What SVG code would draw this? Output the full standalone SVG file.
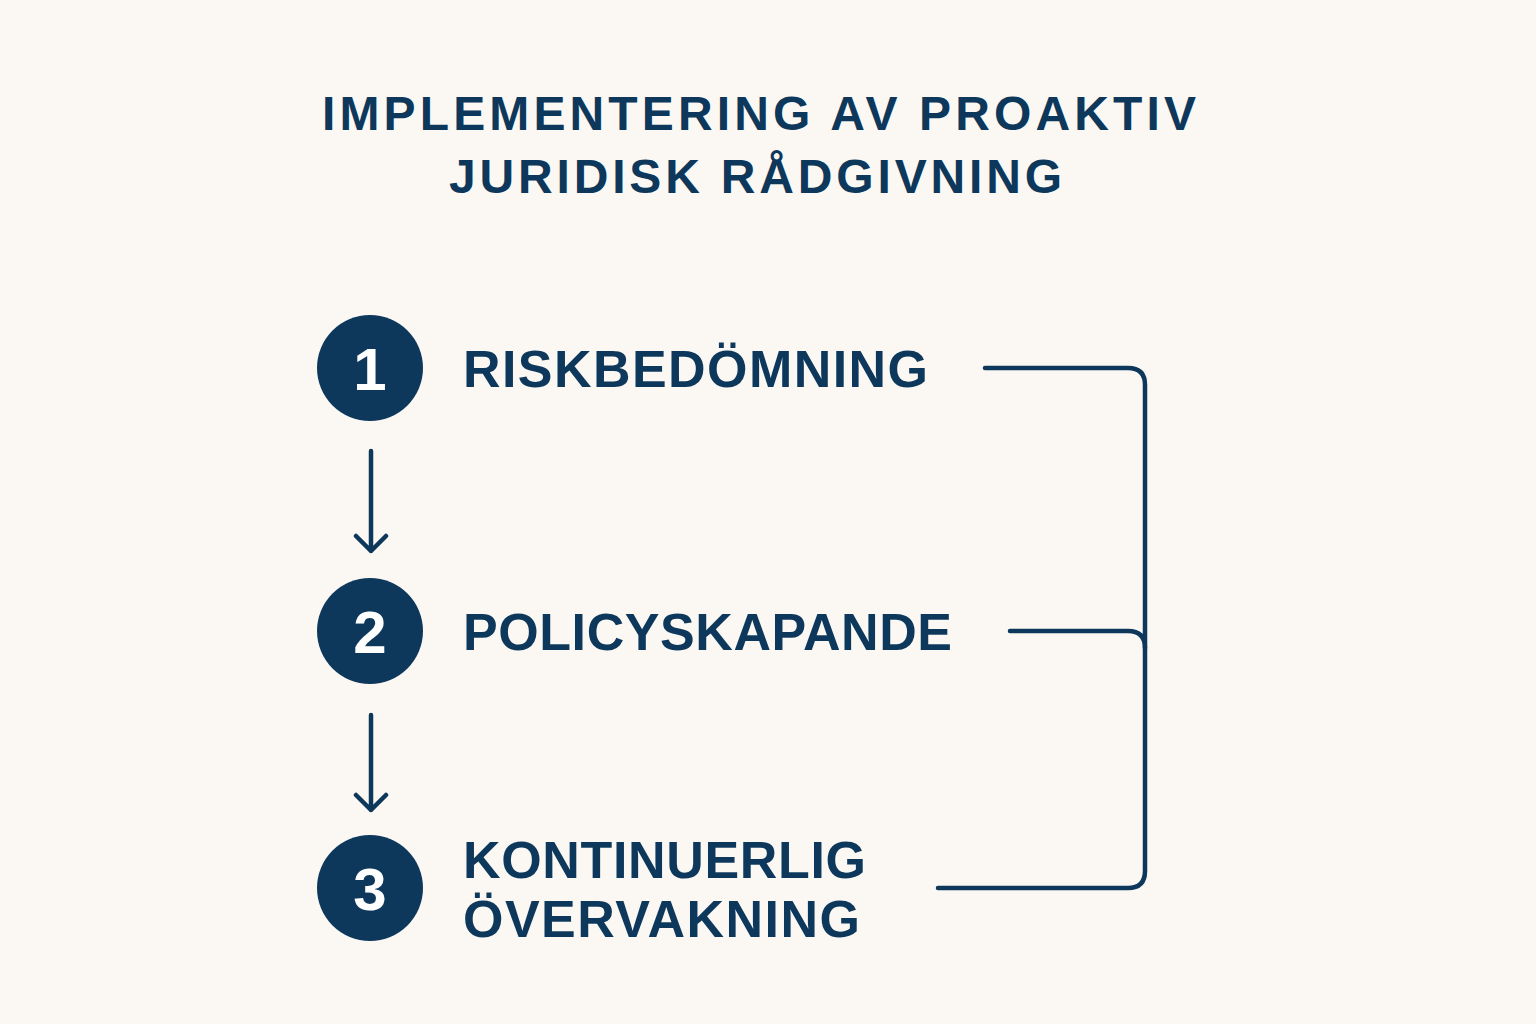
<svg xmlns="http://www.w3.org/2000/svg" width="1536" height="1024" viewBox="0 0 1536 1024">
<style>
.t{font-family:"Liberation Sans",Arial,sans-serif;font-weight:700;fill:#0d385c}
.title{font-size:48px}
.lab{font-size:52px}
.num{font-family:"Liberation Sans",Arial,sans-serif;font-weight:700;font-size:60px;fill:#ffffff}
.c{fill:#0d385c}
.ln{fill:none;stroke:#0d385c;stroke-width:4.5;stroke-linecap:round;stroke-linejoin:round}
</style>
<rect width="1536" height="1024" fill="#fbf8f3"/>
<g id="title">
<text class="t title" x="322" y="130" textLength="874" lengthAdjust="spacing">IMPLEMENTERING AV PROAKTIV</text>
<text class="t title" x="449" y="193" textLength="613" lengthAdjust="spacing">JURIDISK RÅDGIVNING</text>
</g>
<g id="node1">
<circle class="c" cx="370" cy="368" r="53"/>
<text class="num" x="370" y="390" text-anchor="middle">1</text>
<text class="t lab" x="463" y="387" textLength="465" lengthAdjust="spacing">RISKBEDÖMNING</text>
</g>
<g id="node2">
<circle class="c" cx="370" cy="631" r="53"/>
<text class="num" x="370" y="653" text-anchor="middle">2</text>
<text class="t lab" x="463" y="650" textLength="489" lengthAdjust="spacing">POLICYSKAPANDE</text>
</g>
<g id="node3">
<circle class="c" cx="370" cy="888" r="53"/>
<text class="num" x="370" y="910" text-anchor="middle">3</text>
<text class="t lab" x="463" y="878" textLength="403" lengthAdjust="spacing">KONTINUERLIG</text>
<text class="t lab" x="463" y="937" textLength="397" lengthAdjust="spacing">ÖVERVAKNING</text>
</g>
<g id="connectors">
<path class="ln" d="M371 451 V551 M356 536 L371 551 L386 536"/>
<path class="ln" d="M371 715 V810 M356 795 L371 810 L386 795"/>
<path class="ln" d="M985 368 H1128 Q1145 368 1145 385 V871 Q1145 888 1128 888 H938"/>
<path class="ln" d="M1010 631 H1128 Q1145 631 1145 648"/>
</g>
</svg>
